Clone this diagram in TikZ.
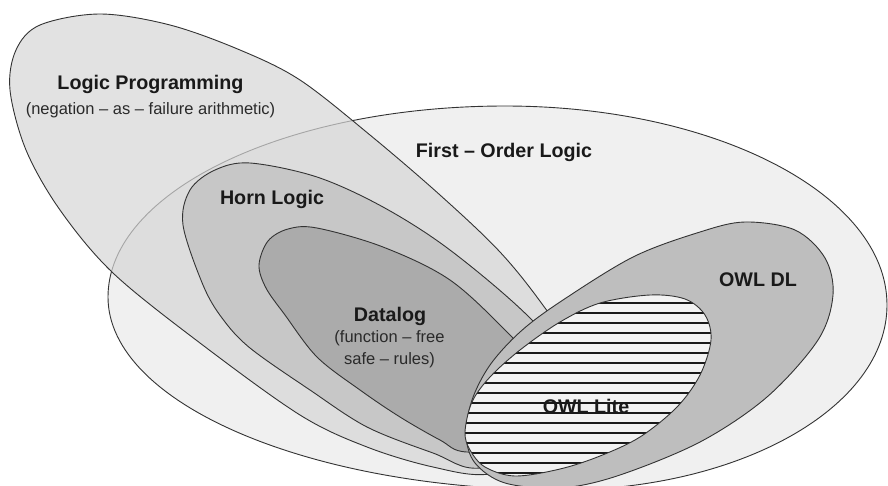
\documentclass[tikz,border=0pt]{standalone}
\usepackage{fontspec}
\setmainfont{Liberation Sans}
\definecolor{edge}{HTML}{333333}
\definecolor{folfill}{HTML}{F0F0F0}
\definecolor{lpfill}{HTML}{D6D6D6}
\definecolor{hornfill}{HTML}{C7C7C7}
\definecolor{datafill}{HTML}{ABABAB}
\definecolor{dlfill}{HTML}{BEBEBE}
\definecolor{litefill}{HTML}{F2F2F2}
\definecolor{notegray}{HTML}{2A2A2A}
\begin{document}
\begin{tikzpicture}[x=1pt,y=-1pt,
  region/.style={draw=edge, line width=0.9pt},
  hatchline/.style={draw=black!90, line width=1.8pt},
  title/.style={font=\bfseries\fontsize{19.7}{22}\selectfont, anchor=base, inner sep=0pt, text=black!90},
  note/.style={font=\fontsize{16.5}{20}\selectfont, anchor=base, inner sep=0pt, text=notegray}]
\useasboundingbox[fill=white] (0,0) rectangle (888,485);

% First-order logic: the outer egg
\draw[region, fill=folfill]
  (108,297) .. controls (108,191.5) and (285.7,106) .. (505,106)
            .. controls (716,106) and (887,195) .. (887,305)
            .. controls (887,407) and (740.6,490) .. (560,490)
            .. controls (310.4,490) and (108,403.6) .. (108,297) -- cycle;

% Logic programming, laid over first-order logic
\draw[region, fill=lpfill, fill opacity=0.7]
  plot[smooth cycle, tension=0.55] coordinates {
    (10,90) (16,50) (40,25) (100,14) (170,25) (240,50) (300,80) (370,135)
    (440,195) (500,252) (545,308) (600,390) (560,450) (490,474) (433,467)
    (367,447) (300,415) (200,343) (113,273) (60,210) (26,150)};

% Horn logic
\draw[region, fill=hornfill]
  plot[smooth cycle, tension=0.55] coordinates {
    (183,225) (190,190) (215,170) (250,163) (317,177) (383,207) (450,250)
    (530,318) (590,390) (560,440) (480,468) (433,453) (367,427) (310,390)
    (250,348) (222,318) (203,285)};

% Datalog
\draw[region, fill=datafill]
  plot[smooth cycle, tension=0.55] coordinates {
    (259,265) (268,241) (288,229) (317,228) (383,247) (450,280) (510,335)
    (570,400) (540,445) (467,452) (440,440) (400,417) (360,390) (317,357)
    (285,315) (266,288)};

% OWL DL
\draw[region, fill=dlfill]
  plot[smooth cycle, tension=0.55] coordinates {
    (466,435) (472,400) (490,365) (520,332) (560,302) (633,257) (700,232)
    (745,222) (795,230) (825,258) (833,295) (818,340) (767,397) (700,442)
    (617,476) (560,488) (505,483) (475,463)};

% OWL Lite with its horizontal hatching
\fill[litefill]
  plot[smooth cycle, tension=0.55] coordinates {
    (465,432) (472,402) (490,377) (520,350) (560,322) (600,303) (650,295)
    (685,299) (705,315) (711,340) (700,375) (677,407) (640,437) (600,456)
    (560,469) (515,476) (485,467) (470,450)};
\begin{scope}
  \clip plot[smooth cycle, tension=0.55] coordinates {
    (465,432) (472,402) (490,377) (520,350) (560,322) (600,303) (650,295)
    (685,299) (705,315) (711,340) (700,375) (677,407) (640,437) (600,456)
    (560,469) (515,476) (485,467) (470,450)};
  \foreach \k in {0,...,18}
    \draw[hatchline] (450,{303.3+10*\k}) -- (720,{303.3+10*\k});
\end{scope}
\draw[region]
  plot[smooth cycle, tension=0.55] coordinates {
    (465,432) (472,402) (490,377) (520,350) (560,322) (600,303) (650,295)
    (685,299) (705,315) (711,340) (700,375) (677,407) (640,437) (600,456)
    (560,469) (515,476) (485,467) (470,450)};

% Labels
\node[title] (lp) at (150.5,89) {Logic Programming};
\node[note] (lpnote) at (150.5,114) {(negation – as – failure arithmetic)};
\node[title] (fol) at (504,157.5) {First – Order Logic};
\node[title] (horn) at (272,204) {Horn Logic};
\node[title] (datalog) at (390,321.5) {Datalog};
\node[note] (dnote1) at (389.5,342) {(function – free};
\node[note] (dnote2) at (389.5,364.5) {safe – rules)};
\node[title] (owldl) at (758,286) {OWL DL};
\node[title] (owllite) at (586,413.5) {OWL Lite};
\end{tikzpicture}
\end{document}
